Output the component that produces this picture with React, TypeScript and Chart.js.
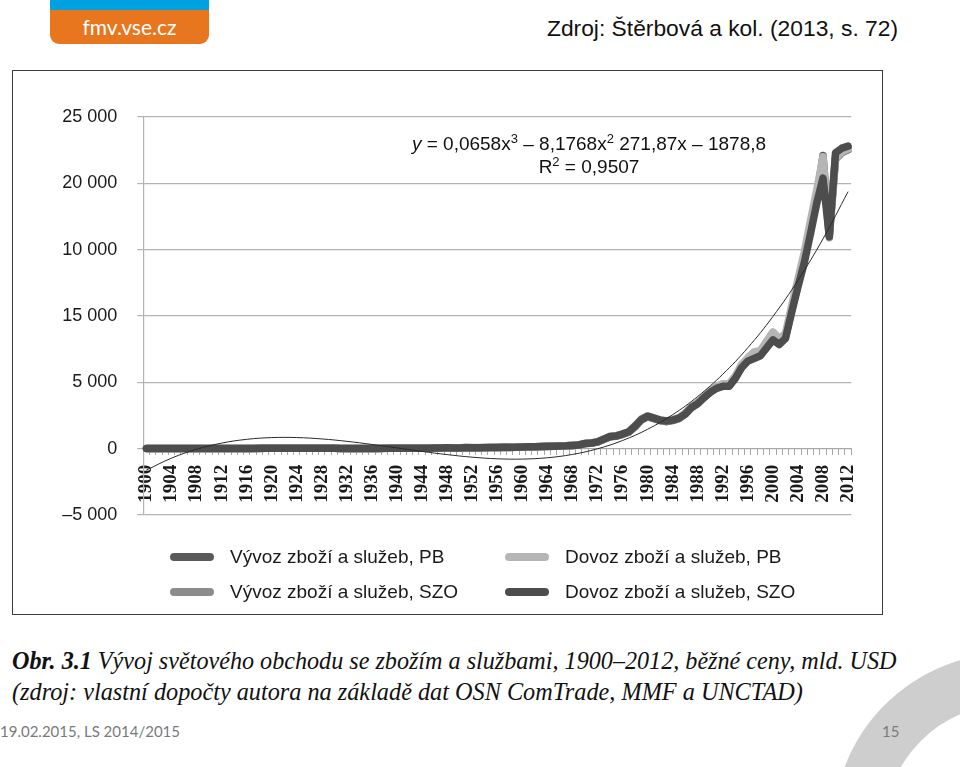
import React, { useEffect, useLayoutEffect, useRef } from 'react';
import { Chart, registerables } from 'chart.js';

Chart.register(...registerables);

// ---- categories ----
const years: string[] = Array.from({ length: 113 }, (_, i) => String(1900 + i));
const tickYears = ['1900','1904','1908','1912','1916','1920','1924','1928','1932','1936','1940','1944','1948','1952','1956','1960','1964','1968','1972','1976','1980','1984','1988','1992','1996','2000','2004','2008','2012'];

// y tick labels as printed in the source (bottom to top)
const yTickLabels = ['\u20135 000', '0', '5 000', '15 000', '10 000', '20 000', '25 000'];

// ---- series (bn USD), 1900..2012 ----
const vyvozPB = [
  10,11,11,12,13,13,14,15,15,16,
  17,18,19,20,18,17,18,20,21,27,
  32,25,24,27,30,33,32,33,34,33,
  26,20,13,12,12,12,13,16,22,23,
  25,28,30,33,30,32,40,51,57,55,
  56,77,75,75,78,85,94,101,97,102,
  129,134,141,155,172,186,203,214,240,272,
  380,420,500,700,900,950,1080,1250,1680,2180,
  2420,2280,2120,2050,2130,2280,2620,3120,3430,3880,
  4300,4600,4780,4760,5380,6250,6700,6950,7100,7750,
  8400,8000,8450,10500,12500,14500,16900,19000,22100,16100,
  22100,22500,22700,
];
const vyvozSZO = [
  10,10,11,12,12,13,14,14,15,16,
  17,18,18,19,18,17,18,19,21,26,
  31,25,24,26,29,32,31,32,33,32,
  25,19,13,12,12,12,13,15,21,22,
  24,27,29,32,29,31,39,50,56,54,
  55,76,74,74,77,84,93,100,96,101,
  127,132,139,153,170,184,201,212,238,270,
  375,415,495,690,890,940,1070,1240,1660,2150,
  2400,2260,2100,2040,2120,2260,2600,3080,3400,3850,
  4280,4570,4740,4730,5350,6220,6650,6900,7050,7700,
  8350,7950,8400,10400,12400,14400,16800,18900,21600,15900,
  21800,22300,22500,
];
const dovozPB = [
  11,12,12,13,14,14,15,16,17,18,
  19,20,21,22,20,19,20,22,23,29,
  34,27,26,29,32,35,34,35,36,35,
  28,22,14,13,13,13,14,17,24,25,
  27,30,32,35,32,34,43,55,62,59,
  60,82,80,80,83,90,99,107,103,108,
  135,140,147,162,180,194,211,222,250,283,
  400,440,520,740,940,980,1120,1300,1750,2250,
  2480,2330,2180,2100,2200,2350,2700,3200,3500,3950,
  4400,4700,4900,4900,5500,6350,6850,7300,7400,8100,
  8800,8300,8700,10800,12800,14800,17200,19500,22000,16200,
  21900,22400,22600,
];
const dovozSZO = [
  11,11,12,12,13,14,15,16,16,17,
  18,19,20,21,19,18,19,21,22,28,
  33,26,25,28,31,34,33,34,35,34,
  27,21,14,13,13,13,14,17,23,24,
  26,29,31,34,31,33,42,53,60,57,
  58,80,78,78,81,88,97,104,100,105,
  132,137,144,158,176,190,207,218,245,278,
  390,430,510,720,920,960,1100,1270,1700,2200,
  2450,2300,2150,2080,2150,2300,2600,3100,3400,3850,
  4250,4550,4700,4700,5300,6100,6600,6800,7000,7600,
  8200,7850,8300,10300,12200,14000,16200,18500,20400,16000,
  22300,22650,22800,
];

// polynomial trend line, values read at every 4th year
const trendYears = tickYears;
const trendValues = [-1615,-716,-46,418,703,834,836,734,553,319,58,-207,-448,-642,-763,-785,-684,-434,-9,615,1464,2562,3936,5611,7611,9962,12690,15819,19375];

const seriesDefs = [
  { label: 'Vývoz zboží a služeb, PB', data: vyvozPB, color: '#5a5a5a', order: 4 },
  { label: 'Vývoz zboží a služeb, SZO', data: vyvozSZO, color: '#8c8c8c', order: 3 },
  { label: 'Dovoz zboží a služeb, PB', data: dovozPB, color: '#b5b5b5', order: 2 },
  { label: 'Dovoz zboží a služeb, SZO', data: dovozSZO, color: '#4d4d4d', order: 1 },
];
const legendOrder = [0, 2, 1, 3];

const SANS = '"Liberation Sans", Arial, Helvetica, sans-serif';
const SERIF = '"Liberation Serif", "Times New Roman", serif';
const CAL = 'Lato, "Open Sans", sans-serif';

function FitLine({ width, children, style }: { width: number; children: React.ReactNode; style: React.CSSProperties }) {
  const ref = useRef<HTMLDivElement>(null);
  useLayoutEffect(() => {
    const el = ref.current;
    if (!el) return;
    el.style.transform = 'none';
    const w = el.scrollWidth;
    if (w > 0) el.style.transform = `scaleX(${width / w})`;
  }, [width]);
  return (
    <div ref={ref} style={{ ...style, whiteSpace: 'nowrap', transformOrigin: '0 0', display: 'inline-block', position: 'absolute' }}>
      {children}
    </div>
  );
}

const supStyle: React.CSSProperties = { fontSize: 13, position: 'relative', top: -7 };

export default function App() {
  const canvasRef = useRef<HTMLCanvasElement>(null);

  useEffect(() => {
    const canvas = canvasRef.current;
    if (!canvas) return;
    const datasets: any[] = [
      {
        label: 'trend',
        data: trendYears.map((y, i) => ({ x: y, y: trendValues[i] })),
        borderColor: '#2a2a2a',
        borderWidth: 1,
        pointRadius: 0,
        tension: 0.4,
        fill: false,
        order: 0,
      },
      ...seriesDefs.map((s) => ({
        label: s.label,
        data: s.data,
        borderColor: s.color,
        backgroundColor: s.color,
        borderWidth: 7.5,
        pointRadius: 0,
        tension: 0,
        fill: false,
        borderJoinStyle: 'round',
        borderCapStyle: 'round',
        order: s.order,
      })),
    ];
    const chart = new Chart(canvas, {
      type: 'line',
      data: { labels: years, datasets },
      options: {
        responsive: false,
        animation: false,
        layout: { padding: { left: 0, top: 46, right: 26, bottom: 98 } },
        plugins: { legend: { display: false }, tooltip: { enabled: false } },
        scales: {
          x: {
            type: 'category',
            position: { y: 0 } as any,
            offset: true,
            grid: { display: true, drawOnChartArea: false, drawTicks: true, tickLength: 6, color: '#a8a8a8', offset: true },
            border: { display: true, color: '#a8a8a8' },
            ticks: {
              autoSkip: false,
              maxRotation: 90,
              minRotation: 90,
              padding: 10,
              color: '#1a1a1a',
              font: { family: SERIF, size: 19, weight: 'bold' },
              callback: (_v: any, index: number) => (tickYears.includes(years[index]) ? years[index] : ''),
            },
          },
          y: {
            min: -5000,
            max: 25000,
            afterFit: (axis: any) => { axis.width = 130.3; },
            grid: { color: '#b3b3b3', lineWidth: 1.2, tickLength: 6, drawTicks: true },
            border: { display: true, color: '#b3b3b3', width: 1.2 },
            ticks: {
              stepSize: 5000,
              padding: 20,
              color: '#1a1a1a',
              font: { family: SANS, size: 18 },
              callback: (_v: any, index: number) => yTickLabels[index],
            },
          },
        },
      } as any,
    });
    return () => chart.destroy();
  }, []);

  return (
    <div style={{ position: 'fixed', left: 0, top: 0, width: 960, height: 767, overflow: 'hidden', background: '#ffffff' }}>
      {/* background ring */}
      <div style={{ position: 'absolute', left: 833, top: 653, width: 354, height: 354, borderRadius: '50%', border: '51px solid #cecece', boxSizing: 'border-box' }} />

      {/* logo */}
      <div style={{ position: 'absolute', left: 50, top: 0, width: 159, height: 44, background: '#e8761f', borderRadius: '0 0 9px 9px', overflow: 'hidden' }}>
        <div style={{ position: 'absolute', left: 0, top: 0, width: '100%', height: 10, background: '#00a1e1' }} />
        <div style={{ position: 'absolute', left: 0, top: 14, width: '100%', textAlign: 'center', color: '#ffffff', fontFamily: CAL, fontSize: 21, lineHeight: '26px' }}>fmv.vse.cz</div>
      </div>

      {/* source */}
      <div style={{ position: 'absolute', right: 62, top: 15, fontFamily: SANS, fontSize: 22.8, lineHeight: '26px', color: '#111', whiteSpace: 'nowrap' }}>
        Zdroj: Štěrbová a kol. (2013, s. 72)
      </div>

      {/* chart frame */}
      <div style={{ position: 'absolute', left: 12, top: 70, width: 871, height: 545, border: '1.5px solid #3c3c3c', boxSizing: 'border-box', background: '#fff' }} />
      <canvas ref={canvasRef} width={868} height={542} style={{ position: 'absolute', left: 13, top: 71, width: 868, height: 542 }} />

      {/* trend equation */}
      <div style={{ position: 'absolute', left: 389, top: 133, width: 400, textAlign: 'center', fontFamily: SANS, fontSize: 19, lineHeight: '21px', color: '#111', whiteSpace: 'nowrap' }}>
        <div><i>y</i> = 0,0658x<span style={supStyle}>3</span> – 8,1768x<span style={supStyle}>2</span> 271,87x – 1878,8</div>
        <div>R<span style={supStyle}>2</span> = 0,9507</div>
      </div>

      {/* legend */}
      <div style={{ position: 'absolute', left: 170, top: 539.5, display: 'grid', gridTemplateColumns: '335px 360px', gridAutoRows: '35px' }}>
        {legendOrder.map((idx) => {
          const s = seriesDefs[idx];
          return (
            <div key={s.label} style={{ display: 'flex', alignItems: 'center' }}>
              <span style={{ display: 'inline-block', width: 44, height: 8, borderRadius: 4, background: s.color, marginRight: 16 }} />
              <span style={{ fontFamily: SANS, fontSize: 19, color: '#1a1a1a', whiteSpace: 'nowrap' }}>{s.label}</span>
            </div>
          );
        })}
      </div>

      {/* caption */}
      <FitLine width={885} style={{ left: 12, top: 645, fontFamily: SERIF, fontSize: 26, lineHeight: '32px', color: '#111', fontStyle: 'italic' }}>
        <b>Obr. 3.1</b> Vývoj světového obchodu se zbožím a službami, 1900–2012, běžné ceny, mld. USD
      </FitLine>
      <FitLine width={791} style={{ left: 12, top: 676, fontFamily: SERIF, fontSize: 26, lineHeight: '32px', color: '#111', fontStyle: 'italic' }}>
        (zdroj: vlastní dopočty autora na základě dat OSN ComTrade, MMF a UNCTAD)
      </FitLine>

      {/* footer */}
      <div style={{ position: 'absolute', left: 0, top: 721, fontFamily: CAL, fontSize: 15, lineHeight: '20px', color: '#7a7a7a', whiteSpace: 'nowrap' }}>19.02.2015, LS 2014/2015</div>
      <div style={{ position: 'absolute', left: 882, top: 721, fontFamily: CAL, fontSize: 15, lineHeight: '20px', color: '#7a7a7a' }}>15</div>
    </div>
  );
}
